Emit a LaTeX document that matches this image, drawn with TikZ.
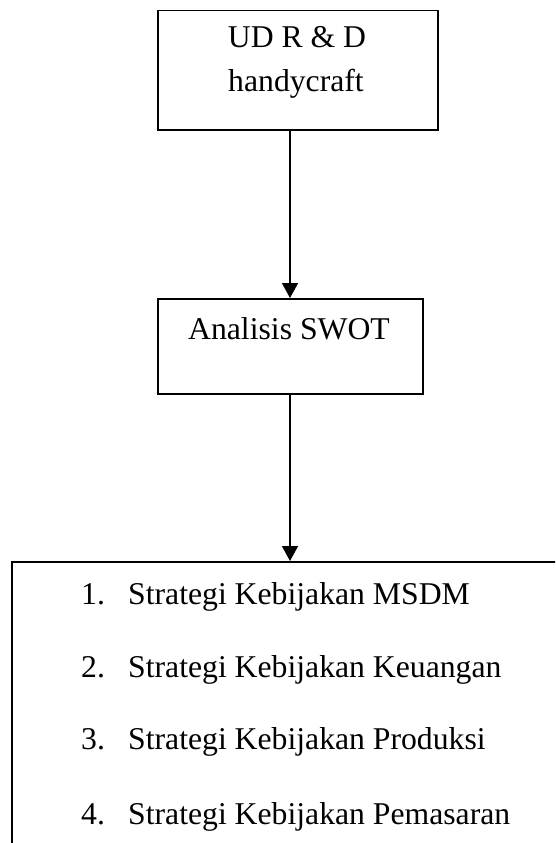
\documentclass[tikz,border=0pt]{standalone}
\usepackage{fontspec}
\setmainfont{Liberation Serif}
\usetikzlibrary{arrows.meta}
\begin{document}
\begin{tikzpicture}[x=1pt,y=1pt,
  box/.style={draw, line width=1.5pt, inner sep=0pt},
  lbl/.style={font=\fontsize{31.7}{43}\selectfont, inner sep=0pt, anchor=base},
  item/.style={font=\fontsize{31.7}{43}\selectfont, inner sep=0pt, anchor=base west},
  conn/.style={line width=1.5pt, -{Triangle[width=16pt,length=15pt]}}]
\useasboundingbox (0,0) rectangle (555,-843);
\clip (0,0) rectangle (555,-843);
% boxes
\node[box, minimum width=280, minimum height=119, anchor=north west] (ud) at (157,-10) {};
\node[box, minimum width=265, minimum height=95, anchor=north west] (sw) at (157,-298) {};
\node[box, minimum width=700, minimum height=400, anchor=north west] (list) at (11,-561) {};
% texts
\node[lbl] (t1) at (297,-48) {UD R \& D};
\node[lbl] (t2) at (296,-91) {handycraft};
\node[lbl] (t3) at (289,-339) {Analisis SWOT};
\node[item] (n1) at (81,-604) {1.};
\node[item] (n2) at (81,-677) {2.};
\node[item] (n3) at (81,-749) {3.};
\node[item] (n4) at (81,-824) {4.};
\node[item] (s1) at (128,-604) {Strategi Kebijakan MSDM};
\node[item] (s2) at (128,-677) {Strategi Kebijakan Keuangan};
\node[item] (s3) at (128,-749) {Strategi Kebijakan Produksi};
\node[item] (s4) at (128,-824) {Strategi Kebijakan Pemasaran};
% connectors
\coordinate (a1) at (290,0);
\draw[conn] (ud.south -| a1) -- (sw.north -| a1);
\draw[conn] (sw.south -| a1) -- (list.north -| a1);
\end{tikzpicture}
\end{document}
